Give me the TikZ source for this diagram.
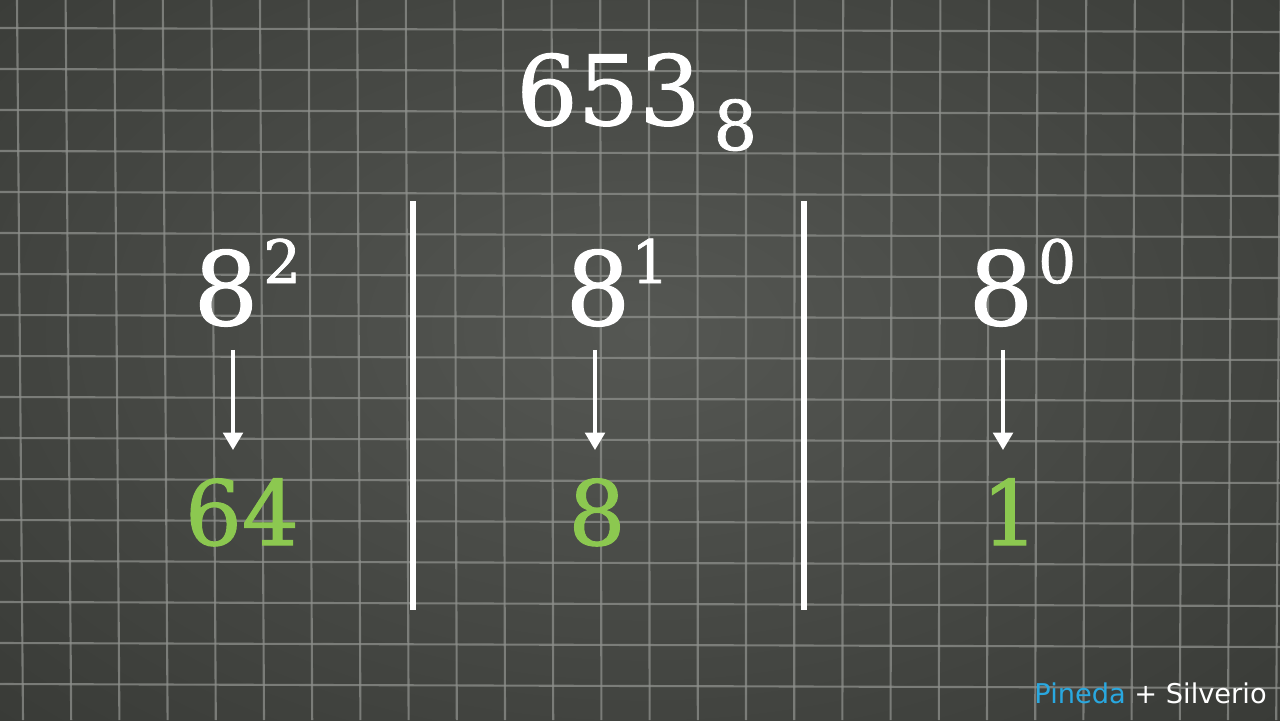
\documentclass[tikz,border=0pt]{standalone}
\usepackage{fontspec}
\setmainfont{DejaVu Serif}[FakeBold=1.2]
\newfontfamily\signfont{DejaVu Sans}
\usepackage{xcolor}
\usetikzlibrary{arrows.meta,positioning}
\definecolor{boarddark}{HTML}{393B37}
\definecolor{boardlight}{HTML}{555753}
\definecolor{gridgray}{HTML}{8E908C}
\definecolor{valgreen}{HTML}{8CC850}
\definecolor{signblue}{HTML}{29A8E0}
\tikzset{
  bignum/.style={text=white,inner sep=0,anchor=base,font=\fontsize{58}{66}\selectfont},
  expo/.style={text=white,inner sep=0,anchor=base west,font=\fontsize{34}{40}\selectfont},
  value/.style={text=valgreen,inner sep=0,anchor=base,font=\fontsize{51}{60}\selectfont},
  arrowline/.style={white,line width=2.6pt,-{Triangle[width=11pt,length=10pt]}},
  divider/.style={white,line width=3.4pt}
}
\begin{document}
\begin{tikzpicture}[x=0.02cm,y=-0.02cm]
\useasboundingbox (0,0) rectangle (1280,720);
% chalkboard
\fill[boarddark] (0,0) rectangle (1280,720);
\begin{scope}
\clip (0,0) rectangle (1280,720);
\shade[inner color=boardlight,outer color=boarddark] (640,330) ellipse (900 and 560);
\foreach \k in {0,...,27}{\draw[gridgray,line width=1.2pt,opacity=.75] (17+48.6*\k,0)--(23+48.2*\k,720);}
\foreach \k in {0,...,17}{\draw[gridgray,line width=1.2pt,opacity=.75] (0,28+41*\k)--(1280,32+41*\k);}
\end{scope}
% number and base
\node[text=white,inner sep=0,anchor=base west,font=\fontsize{55}{64}\selectfont] (num) at (516,125) {653};
\node[text=white,inner sep=0,anchor=base west,font=\fontsize{39}{46}\selectfont] (numbase) at ([shift={(12,25)}]num.base east) {8};
% place values
\node[bignum] (b2) at (226,325) {8};
\node[bignum] (b1) at (598,325) {8};
\node[bignum] (b0) at (1001,325) {8};
\node[expo] (e2) at ([shift={(4,-42)}]b2.base east) {2};
\node[expo] (e1) at ([shift={(0,-42)}]b1.base east) {1};
\node[expo] (e0) at ([shift={(4,-42)}]b0.base east) {0};
\node[value] (v2) at (242,545) {64};
\node[value] (v1) at (597,545) {8};
\node[value] (v0) at (1010,545) {1};
\foreach \k/\dt/\dh in {2/7/-9,1/-3/-2,0/2/-7}
  \draw[arrowline] ([shift={(\dt,23)}]b\k.south) -- ([shift={(\dh,-28)}]v\k.north);
% column dividers
\coordinate (d1t) at (413,201); \coordinate (d1b) at (413,610);
\coordinate (d2t) at (804,201); \coordinate (d2b) at (804,610);
\draw[divider] (d1t)--(d1b);
\draw[divider] (d2t)--(d2b);
% signature
\node[inner sep=0,anchor=base east,font=\signfont\fontsize{15.5}{18}\selectfont] (sign) at (1267,703) {\textcolor{signblue}{Pineda}~\textcolor{white}{+~Silverio}};
\end{tikzpicture}
\end{document}
